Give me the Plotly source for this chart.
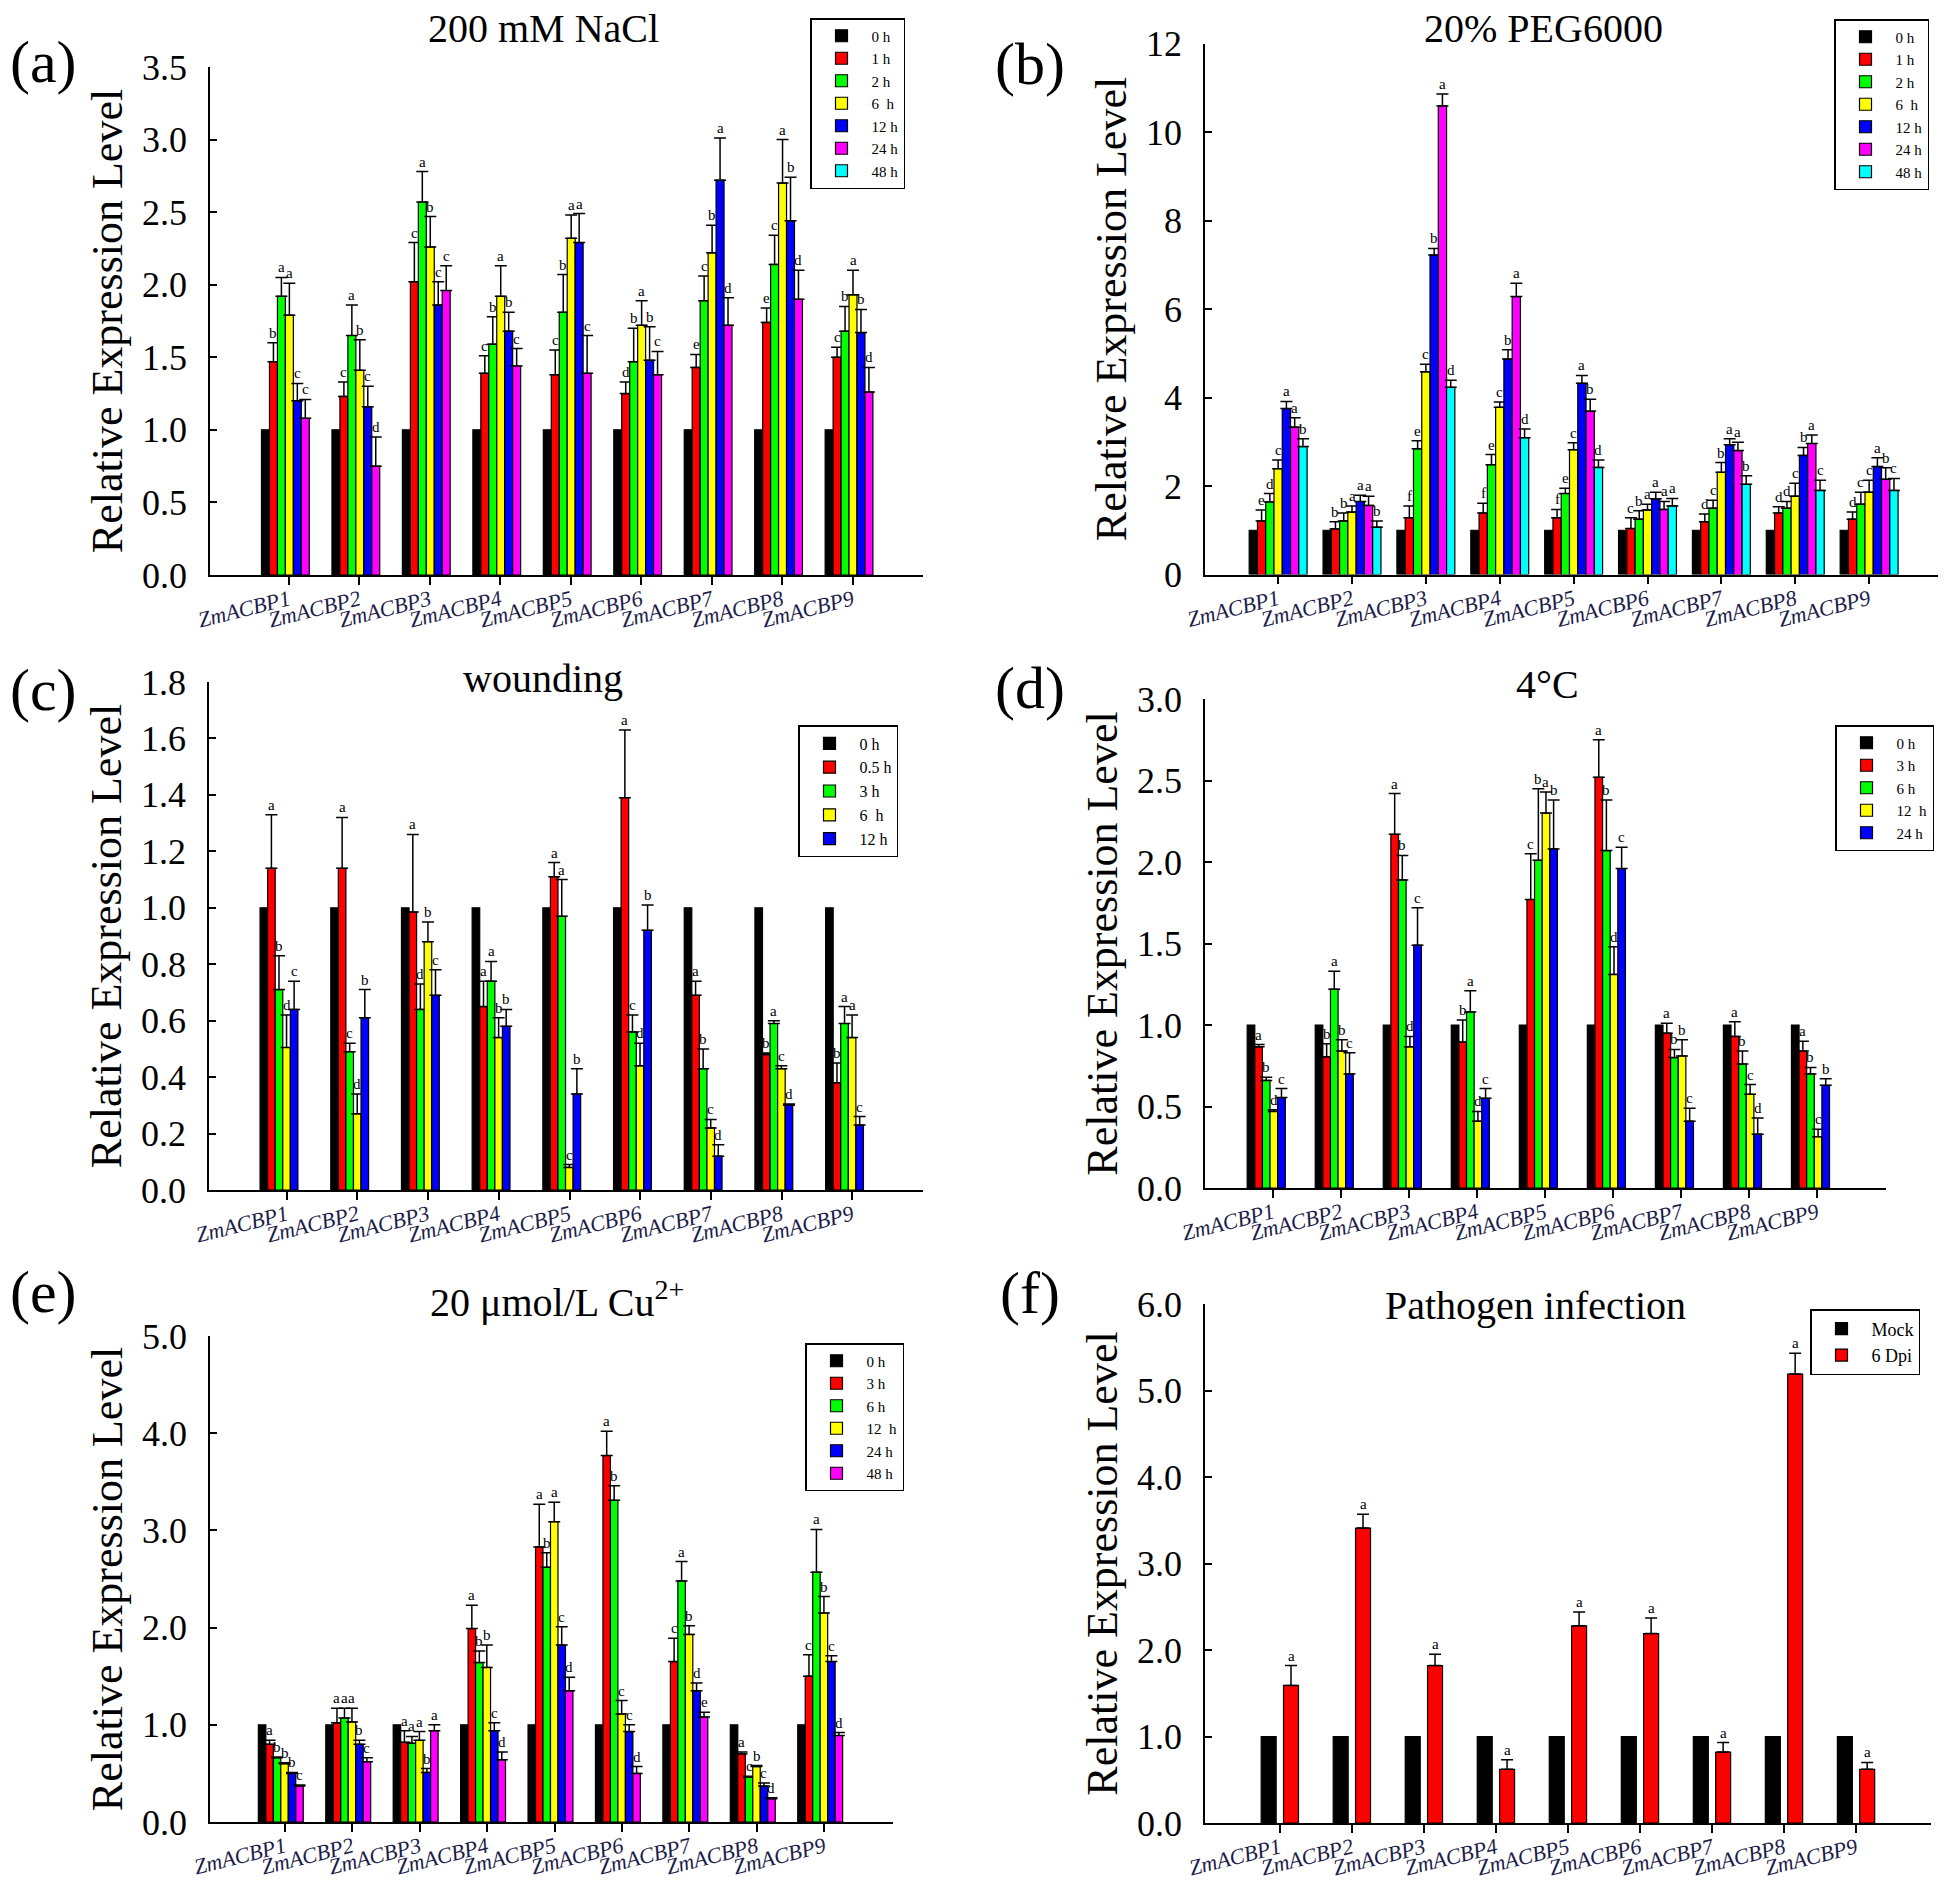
import plotly.graph_objects as go

W, H = 1946, 1885          # target picture size
OFF = 8                    # default page (body) margin around the figure div
FIG_W, FIG_H = W - OFF, H - OFF
FONT = "Liberation Serif, Times New Roman, serif"

genes = ["ZmACBP1", "ZmACBP2", "ZmACBP3", "ZmACBP4", "ZmACBP5",
         "ZmACBP6", "ZmACBP7", "ZmACBP8", "ZmACBP9"]
gene_ticktext = ["<i>" + g + "</i>" for g in genes]

# ---------------- (a) 200 mM NaCl ----------------
nacl_series = ["0 h", "1 h", "2 h", "6  h", "12 h", "24 h", "48 h"]
nacl_0h = [1.0, 1.0, 1.0, 1.0, 1.0, 1.0, 1.0, 1.0, 1.0]
nacl_1h = [1.47, 1.23, 2.02, 1.39, 1.38, 1.25, 1.43, 1.74, 1.50]
nacl_2h = [1.92, 1.65, 2.57, 1.59, 1.81, 1.47, 1.89, 2.14, 1.68]
nacl_6h = [1.79, 1.41, 2.26, 1.92, 2.32, 1.72, 2.22, 2.70, 1.93]
nacl_12h = [1.20, 1.16, 1.86, 1.68, 2.29, 1.48, 2.72, 2.44, 1.67]
nacl_24h = [1.08, 0.75, 1.96, 1.44, 1.39, 1.38, 1.72, 1.90, 1.26]
nacl_48h = None
nacl_err_1h = [0.13, 0.10, 0.27, 0.12, 0.17, 0.08, 0.09, 0.10, 0.07]
nacl_err_2h = [0.13, 0.21, 0.21, 0.19, 0.26, 0.23, 0.17, 0.20, 0.17]
nacl_err_6h = [0.22, 0.21, 0.21, 0.21, 0.16, 0.17, 0.19, 0.30, 0.17]
nacl_err_12h = [0.12, 0.14, 0.16, 0.13, 0.20, 0.23, 0.29, 0.30, 0.16]
nacl_err_24h = [0.13, 0.20, 0.17, 0.12, 0.26, 0.16, 0.19, 0.20, 0.17]
nacl_let_1h = ["b", "c", "c", "c", "c", "d", "e", "e", "c"]
nacl_let_2h = ["a", "a", "a", "b", "b", "b", "c", "c", "b"]
nacl_let_6h = ["a", "b", "b", "a", "a", "a", "b", "a", "a"]
nacl_let_12h = ["c", "c", "c", "b", "a", "b", "a", "b", "b"]
nacl_let_24h = ["c", "d", "c", "c", "c", "c", "d", "d", "d"]

# ---------------- (b) 20% PEG6000 ----------------
peg_series = ["0 h", "1 h", "2 h", "6  h", "12 h", "24 h", "48 h"]
peg_0h = [1.0, 1.0, 1.0, 1.0, 1.0, 1.0, 1.0, 1.0, 1.0]
peg_1h = [1.21, 1.03, 1.28, 1.39, 1.28, 1.04, 1.19, 1.39, 1.25]
peg_2h = [1.64, 1.21, 2.84, 2.48, 1.83, 1.25, 1.50, 1.50, 1.59]
peg_6h = [2.39, 1.41, 4.58, 3.78, 2.82, 1.46, 2.31, 1.77, 1.86]
peg_12h = [3.75, 1.65, 7.22, 4.87, 4.32, 1.71, 2.93, 2.69, 2.44]
peg_24h = [3.33, 1.56, 10.59, 6.28, 3.69, 1.47, 2.80, 2.96, 2.15]
peg_48h = [2.89, 1.07, 4.23, 3.09, 2.42, 1.55, 2.04, 1.90, 1.90]
peg_err_1h = [0.25, 0.16, 0.27, 0.22, 0.19, 0.24, 0.18, 0.14, 0.16]
peg_err_2h = [0.19, 0.18, 0.18, 0.23, 0.12, 0.19, 0.18, 0.15, 0.27]
peg_err_6h = [0.20, 0.14, 0.17, 0.12, 0.16, 0.13, 0.22, 0.29, 0.27]
peg_err_12h = [0.16, 0.14, 0.15, 0.21, 0.18, 0.15, 0.14, 0.18, 0.20]
peg_err_24h = [0.21, 0.21, 0.27, 0.30, 0.27, 0.18, 0.19, 0.19, 0.26]
peg_err_48h = [0.18, 0.14, 0.16, 0.20, 0.17, 0.17, 0.19, 0.23, 0.27]
peg_let_1h = ["e", "b", "f", "f", "f", "c", "d", "d", "d"]
peg_let_2h = ["d", "b", "e", "e", "e", "b", "c", "d", "c"]
peg_let_6h = ["c", "a", "c", "c", "c", "a", "b", "c", "c"]
peg_let_12h = ["a", "a", "b", "b", "a", "a", "a", "b", "a"]
peg_let_24h = ["a", "a", "a", "a", "b", "a", "a", "a", "b"]
peg_let_48h = ["b", "b", "d", "d", "d", "a", "b", "c", "c"]

# ---------------- (c) wounding ----------------
wound_series = ["0 h", "0.5 h", "3 h", "6  h", "12 h"]
wound_0h = [1.0, 1.0, 1.0, 1.0, 1.0, 1.0, 1.0, 1.0, 1.0]
wound_05h = [1.14, 1.14, 0.985, 0.65, 1.11, 1.39, 0.69, 0.48, 0.38]
wound_3h = [0.71, 0.49, 0.64, 0.74, 0.97, 0.56, 0.43, 0.59, 0.59]
wound_6h = [0.505, 0.27, 0.88, 0.54, 0.08, 0.44, 0.22, 0.43, 0.54]
wound_12h = [0.64, 0.61, 0.69, 0.58, 0.34, 0.92, 0.12, 0.30, 0.23]
wound_err_05h = [0.19, 0.18, 0.275, 0.09, 0.05, 0.24, 0.05, 0.005, 0.07]
wound_err_3h = [0.12, 0.03, 0.09, 0.07, 0.13, 0.06, 0.07, 0.01, 0.06]
wound_err_6h = [0.115, 0.07, 0.07, 0.07, 0.01, 0.08, 0.03, 0.01, 0.08]
wound_err_12h = [0.10, 0.10, 0.09, 0.06, 0.09, 0.09, 0.04, 0.005, 0.03]
wound_let_05h = ["a", "a", "a", "a", "a", "a", "a", "b", "b"]
wound_let_3h = ["b", "c", "d", "a", "a", "c", "b", "a", "a"]
wound_let_6h = ["d", "d", "b", "b", "c", "d", "c", "c", "a"]
wound_let_12h = ["c", "b", "c", "b", "b", "b", "d", "d", "c"]

# ---------------- (d) 4°C ----------------
cold_series = ["0 h", "3 h", "6 h", "12  h", "24 h"]
cold_0h = [1.0, 1.0, 1.0, 1.0, 1.0, 1.0, 1.0, 1.0, 1.0]
cold_3h = [0.866, 0.805, 2.17, 0.895, 1.77, 2.52, 0.95, 0.93, 0.84]
cold_6h = [0.66, 1.22, 1.89, 1.08, 2.01, 2.07, 0.80, 0.76, 0.70]
cold_12h = [0.47, 0.84, 0.866, 0.41, 2.30, 1.31, 0.81, 0.575, 0.315]
cold_24h = [0.555, 0.70, 1.49, 0.55, 2.08, 1.96, 0.41, 0.33, 0.63]
cold_err_3h = [0.014, 0.08, 0.25, 0.135, 0.28, 0.23, 0.06, 0.09, 0.06]
cold_err_6h = [0.02, 0.11, 0.15, 0.13, 0.44, 0.31, 0.05, 0.08, 0.04]
cold_err_12h = [0.01, 0.07, 0.064, 0.06, 0.13, 0.17, 0.10, 0.06, 0.045]
cold_err_24h = [0.055, 0.13, 0.23, 0.06, 0.30, 0.13, 0.08, 0.10, 0.04]
cold_let_3h = ["a", "b", "a", "b", "c", "a", "a", "a", "a"]
cold_let_6h = ["b", "a", "b", "a", "b", "b", "b", "b", "b"]
cold_let_12h = ["d", "b", "d", "d", "a", "d", "b", "c", "c"]
cold_let_24h = ["c", "c", "c", "c", "b", "c", "c", "d", "b"]

# ---------------- (e) 20 umol/L Cu2+ ----------------
cu_series = ["0 h", "3 h", "6 h", "12  h", "24 h", "48 h"]
cu_0h = [1.0, 1.0, 1.0, 1.0, 1.0, 1.0, 1.0, 1.0, 1.0]
cu_3h = [0.80, 1.02, 0.82, 1.99, 2.83, 3.77, 1.65, 0.70, 1.50]
cu_6h = [0.66, 1.07, 0.81, 1.64, 2.62, 3.31, 2.48, 0.46, 2.57]
cu_12h = [0.60, 1.03, 0.84, 1.59, 3.09, 1.11, 1.93, 0.57, 2.15]
cu_24h = [0.50, 0.80, 0.51, 0.94, 1.82, 0.93, 1.35, 0.37, 1.65]
cu_48h = [0.37, 0.62, 0.94, 0.64, 1.35, 0.50, 1.08, 0.24, 0.89]
cu_err_3h = [0.04, 0.15, 0.12, 0.24, 0.44, 0.25, 0.24, 0.02, 0.22]
cu_err_6h = [0.01, 0.10, 0.07, 0.12, 0.15, 0.15, 0.20, 0.01, 0.44]
cu_err_12h = [0.01, 0.14, 0.09, 0.23, 0.20, 0.14, 0.09, 0.01, 0.17]
cu_err_24h = [0.01, 0.04, 0.04, 0.08, 0.19, 0.07, 0.08, 0.03, 0.06]
cu_err_48h = [0.01, 0.04, 0.06, 0.08, 0.14, 0.07, 0.05, 0.01, 0.03]
cu_let_3h = ["a", "a", "a", "a", "a", "a", "c", "a", "c"]
cu_let_6h = ["b", "a", "a", "b", "b", "b", "a", "c", "a"]
cu_let_12h = ["b", "a", "a", "b", "a", "c", "b", "b", "b"]
cu_let_24h = ["b", "b", "b", "c", "c", "c", "d", "c", "c"]
cu_let_48h = ["c", "c", "a", "d", "d", "d", "e", "d", "d"]

# ---------------- (f) Pathogen infection ----------------
path_series = ["Mock", "6 Dpi"]
path_mock = [1.0, 1.0, 1.0, 1.0, 1.0, 1.0, 1.0, 1.0, 1.0]
path_6dpi = [1.59, 3.41, 1.82, 0.62, 2.28, 2.19, 0.82, 5.19, 0.62]
path_err_6dpi = [0.23, 0.16, 0.13, 0.11, 0.16, 0.18, 0.11, 0.24, 0.08]
path_let_6dpi = ["a", "a", "a", "a", "a", "a", "a", "a", "a"]

# ---------------- styling / layout ----------------
C7 = ["#000000", "#FF0000", "#00FF00", "#FFFF00", "#0000FF", "#FF00FF", "#00FFFF"]
C6 = ["#000000", "#FF0000", "#00FF00", "#FFFF00", "#0000FF", "#FF00FF"]
C5 = ["#000000", "#FF0000", "#00FF00", "#FFFF00", "#0000FF"]
C2 = ["#000000", "#FF0000"]

panels = [
    dict(label="(a)", title="200 mM NaCl", series=nacl_series, colors=C7,
         values=[nacl_0h, nacl_1h, nacl_2h, nacl_6h, nacl_12h, nacl_24h, nacl_48h],
         errors=[None, nacl_err_1h, nacl_err_2h, nacl_err_6h, nacl_err_12h, nacl_err_24h, None],
         letters=[None, nacl_let_1h, nacl_let_2h, nacl_let_6h, nacl_let_12h, nacl_let_24h, None],
         box=(210, 923, 67, 575), xrange=(-1.12, 9.0), yrange=(0, 3.5), dtick=0.5, fmt=".1f",
         bw=0.113, shift=-0.05, nvis=6, legend_xy=(810, 18), legend_font=15,
         title_xy=(543, 53), label_xy=(43, 62)),
    dict(label="(b)", title="20% PEG6000", series=peg_series, colors=C7,
         values=[peg_0h, peg_1h, peg_2h, peg_6h, peg_12h, peg_24h, peg_48h],
         errors=[None, peg_err_1h, peg_err_2h, peg_err_6h, peg_err_12h, peg_err_24h, peg_err_48h],
         letters=[None, peg_let_1h, peg_let_2h, peg_let_6h, peg_let_12h, peg_let_24h, peg_let_48h],
         box=(1205, 1943, 43.5, 574.5), xrange=(-0.99, 9.0), yrange=(0, 12), dtick=2, fmt="d",
         bw=0.112, shift=0.0, nvis=7, legend_xy=(1834, 19), legend_font=15,
         title_xy=(1543, 53), label_xy=(1030, 64)),
    dict(label="(c)", title="wounding", series=wound_series, colors=C5,
         values=[wound_0h, wound_05h, wound_3h, wound_6h, wound_12h],
         errors=[None, wound_err_05h, wound_err_3h, wound_err_6h, wound_err_12h],
         letters=[None, wound_let_05h, wound_let_3h, wound_let_6h, wound_let_12h],
         box=(209, 923, 682, 1190), xrange=(-1.10, 9.0), yrange=(0, 1.8), dtick=0.2, fmt=".1f",
         bw=0.107, shift=-0.11, nvis=5, legend_xy=(798, 725), legend_font=16,
         title_xy=(543, 703), label_xy=(43, 690)),
    dict(label="(d)", title="4°C", series=cold_series, colors=C5,
         values=[cold_0h, cold_3h, cold_6h, cold_12h, cold_24h],
         errors=[None, cold_err_3h, cold_err_6h, cold_err_12h, cold_err_24h],
         letters=[None, cold_let_3h, cold_let_6h, cold_let_12h, cold_let_24h],
         box=(1205, 1886, 699, 1188), xrange=(-1.0, 9.01), yrange=(0, 3.0), dtick=0.5, fmt=".1f",
         bw=0.112, shift=-0.10, nvis=5, legend_xy=(1835, 725), legend_font=15,
         title_xy=(1547, 709), label_xy=(1030, 688)),
    dict(label="(e)", title="20 μmol/L Cu<sup>2+</sup>", series=cu_series, colors=C6,
         values=[cu_0h, cu_3h, cu_6h, cu_12h, cu_24h, cu_48h],
         errors=[None, cu_err_3h, cu_err_6h, cu_err_12h, cu_err_24h, cu_err_48h],
         letters=[None, cu_let_3h, cu_let_6h, cu_let_12h, cu_let_24h, cu_let_48h],
         box=(210, 893, 1336, 1822), xrange=(-1.11, 9.02), yrange=(0, 5.0), dtick=1.0, fmt=".1f",
         bw=0.111, shift=-0.06, nvis=6, legend_xy=(805, 1343), legend_font=15,
         title_xy=(557, 1327), label_xy=(43, 1292)),
    dict(label="(f)", title="Pathogen infection", series=path_series, colors=C2,
         values=[path_mock, path_6dpi],
         errors=[None, path_err_6dpi],
         letters=[None, path_let_6dpi],
         box=(1205, 1931, 1304, 1823), xrange=(-1.04, 9.04), yrange=(0, 6.0), dtick=1.0, fmt=".1f",
         bw=0.208, offsets=[-0.26, 0.05], nvis=2, legend_xy=(1810, 1309), legend_font=18,
         title_xy=(1535, 1330), label_xy=(1030, 1293)),
]


def px_x(px):
    return (px - OFF) / FIG_W


def px_y(py):
    return 1 - (py - OFF) / FIG_H


fig = go.Figure()
annotations = []
layout = dict(
    template="none",
    width=FIG_W, height=FIG_H, margin=dict(l=0, r=0, t=0, b=0, pad=0, autoexpand=False),
    paper_bgcolor="white", plot_bgcolor="white",
    font=dict(family=FONT, color="black"),
    barmode="group", showlegend=True,
)

for i, p in enumerate(panels, start=1):
    sx = "" if i == 1 else str(i)
    xref, yref = "x" + sx, "y" + sx
    legname = "legend" + sx
    x0, x1, y0, y1 = p["box"]
    bw = p["bw"]
    for k, (name, vals) in enumerate(zip(p["series"], p["values"])):
        if "offsets" in p:
            off = p["offsets"][k]
        else:
            off = p["shift"] - p["nvis"] * bw / 2 + k * bw
        err = p["errors"][k]
        yvals = vals if vals is not None else [None] * len(genes)
        tr = go.Bar(
            x=genes, y=yvals, name=name, xaxis=xref, yaxis=yref, legend=legname,
            width=bw, offset=off,
            marker=dict(color=p["colors"][k], line=dict(color="black", width=1.2)),
        )
        if err is not None:
            tr.error_y = dict(type="data", symmetric=False, array=err,
                              arrayminus=[0] * len(err), color="black",
                              thickness=1.5, width=6)
        fig.add_trace(tr)
        lets = p["letters"][k]
        if lets is not None and vals is not None:
            for j, (v, e, t) in enumerate(zip(vals, err, lets)):
                annotations.append(dict(
                    x=j + off + bw / 2, y=v + e, xref=xref, yref=yref, text=t,
                    showarrow=False, xanchor="center", yanchor="bottom", yshift=0,
                    font=dict(family=FONT, size=15, color="black")))
    layout["xaxis" + sx] = dict(
        domain=[px_x(x0), px_x(x1)], anchor=yref, range=list(p["xrange"]),
        automargin=False,
        tickmode="array", tickvals=genes, ticktext=gene_ticktext,
        tickangle=-14, tickfont=dict(family=FONT, size=22, color="#1c1c4a"),
        ticklabelstandoff=-6,
        showline=True, linecolor="black", linewidth=1.5, mirror=False,
        ticks="outside", ticklen=8, tickwidth=1.5, tickcolor="black",
        showgrid=False, zeroline=False, fixedrange=True,
    )
    layout["yaxis" + sx] = dict(
        domain=[px_y(y1), px_y(y0)], anchor=xref, range=list(p["yrange"]),
        automargin=False,
        dtick=p["dtick"], tick0=0, tickformat=p["fmt"],
        tickfont=dict(family=FONT, size=36, color="black"),
        showline=True, linecolor="black", linewidth=1.5, mirror=False,
        ticks="inside", ticklen=7, tickwidth=1.5, tickcolor="black",
        ticklabelstandoff=14,
        showgrid=False, zeroline=False, fixedrange=True,
        title=dict(text="Relative Expression Level",
                   font=dict(family=FONT, size=44, color="black"), standoff=6),
    )
    lx, ly = p["legend_xy"]
    layout[legname] = dict(
        x=px_x(lx), y=px_y(ly), xanchor="left", yanchor="top",
        bordercolor="black", borderwidth=1.5, bgcolor="white",
        font=dict(family=FONT, size=p["legend_font"], color="black"),
        itemwidth=50, tracegroupgap=0, traceorder="normal",
    )
    tx, ty = p["title_xy"]
    annotations.append(dict(
        x=px_x(tx), y=px_y(ty), xref="paper", yref="paper", text=p["title"],
        showarrow=False, xanchor="center", yanchor="bottom",
        font=dict(family=FONT, size=40, color="black")))
    lbx, lby = p["label_xy"]
    annotations.append(dict(
        x=px_x(lbx), y=px_y(lby), xref="paper", yref="paper", text=p["label"],
        showarrow=False, xanchor="center", yanchor="middle",
        font=dict(family=FONT, size=60, color="black")))

layout["annotations"] = annotations
fig.update_layout(**layout)
fig.write_html("out.html")
